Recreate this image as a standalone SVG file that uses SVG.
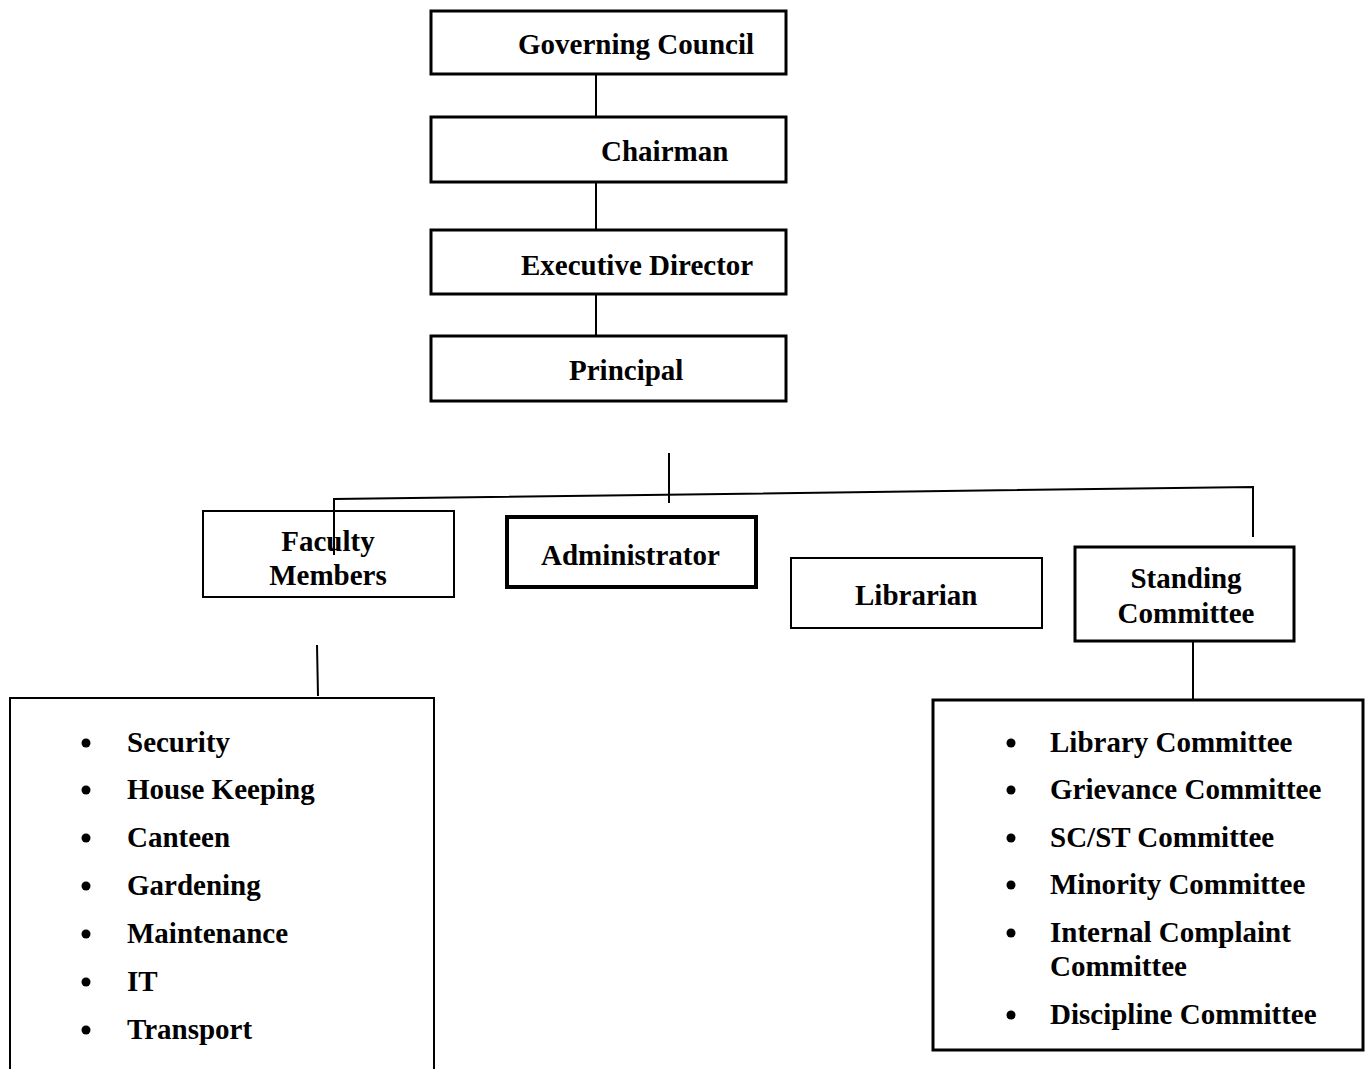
<svg xmlns="http://www.w3.org/2000/svg" width="1371" height="1069" viewBox="0 0 1371 1069">
<style>
text{font-family:"Liberation Serif","Times New Roman",serif;font-weight:bold;font-size:29px;fill:#000}
.c{text-anchor:middle}
.box{fill:#fff;stroke:#000}
.ln{stroke:#000;stroke-width:2;fill:none}
</style>
<rect width="1371" height="1069" fill="#fff"/>
<g id="connectors">
<line class="ln" x1="596" y1="75" x2="596" y2="117"/>
<line class="ln" x1="596" y1="183" x2="596" y2="230"/>
<line class="ln" x1="596" y1="295" x2="596" y2="336"/>
<line class="ln" x1="669" y1="453" x2="669" y2="503"/>
<polyline class="ln" points="334,555 334,499 1253,487 1253,537"/>
<line class="ln" x1="1193" y1="641" x2="1193" y2="699"/>
<line class="ln" x1="317" y1="645" x2="318" y2="696"/>
</g>
<g id="governing-council"><rect class="box" x="431" y="11" width="355" height="63" stroke-width="3"/><text x="518" y="54">Governing Council</text></g>
<g id="chairman"><rect class="box" x="431" y="117" width="355" height="65" stroke-width="3"/><text x="601" y="161">Chairman</text></g>
<g id="executive-director"><rect class="box" x="431" y="230" width="355" height="64" stroke-width="3"/><text x="521" y="275">Executive Director</text></g>
<g id="principal"><rect class="box" x="431" y="336" width="355" height="65" stroke-width="3"/><text x="569" y="380">Principal</text></g>
<g id="faculty-members"><rect class="box" x="203" y="511" width="251" height="86" stroke-width="2" fill="none"/><text class="c" x="328" y="551">Faculty</text><text class="c" x="328" y="585">Members</text></g>
<line class="ln" x1="334" y1="511" x2="334" y2="555"/>
<g id="administrator"><rect class="box" x="507" y="517" width="249" height="70" stroke-width="4"/><text x="541" y="565">Administrator</text></g>
<g id="librarian"><rect class="box" x="791" y="558" width="251" height="70" stroke-width="2"/><text x="855" y="605">Librarian</text></g>
<g id="standing-committee"><rect class="box" x="1075" y="547" width="219" height="94" stroke-width="3"/><text class="c" x="1186" y="588">Standing</text><text class="c" x="1186" y="623">Committee</text></g>
<g id="support-list">
<rect class="box" x="10" y="698" width="424" height="380" stroke-width="2"/>
<g fill="#000"><circle cx="86" cy="743" r="4.5"/><circle cx="86" cy="790" r="4.5"/><circle cx="86" cy="838" r="4.5"/><circle cx="86" cy="886" r="4.5"/><circle cx="86" cy="934" r="4.5"/><circle cx="86" cy="982" r="4.5"/><circle cx="86" cy="1030" r="4.5"/></g>
<text x="127" y="752">Security</text>
<text x="127" y="799">House Keeping</text>
<text x="127" y="847">Canteen</text>
<text x="127" y="895">Gardening</text>
<text x="127" y="943">Maintenance</text>
<text x="127" y="991">IT</text>
<text x="127" y="1039">Transport</text>
</g>
<g id="committee-list">
<rect class="box" x="933" y="700" width="430" height="350" stroke-width="3"/>
<g fill="#000"><circle cx="1011" cy="743" r="4.5"/><circle cx="1011" cy="790" r="4.5"/><circle cx="1011" cy="838" r="4.5"/><circle cx="1011" cy="885" r="4.5"/><circle cx="1011" cy="933" r="4.5"/><circle cx="1011" cy="1015" r="4.5"/></g>
<text x="1050" y="752">Library Committee</text>
<text x="1050" y="799">Grievance Committee</text>
<text x="1050" y="847">SC/ST Committee</text>
<text x="1050" y="894">Minority Committee</text>
<text x="1050" y="942">Internal Complaint</text>
<text x="1050" y="976">Committee</text>
<text x="1050" y="1024">Discipline Committee</text>
</g>
</svg>
